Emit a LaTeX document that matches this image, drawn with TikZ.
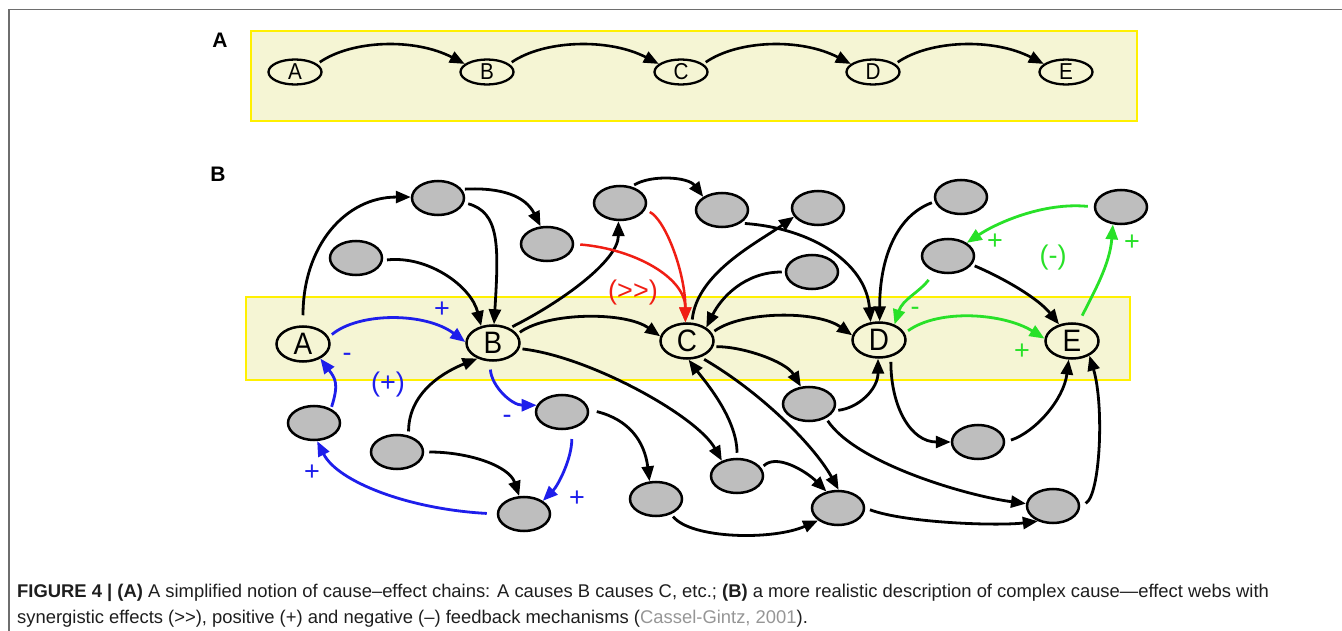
\documentclass[tikz,border=0pt]{standalone}
\usepackage{fontspec}
\setmainfont{Liberation Sans}
\newfontfamily\condfont[FakeStretch=0.9]{Liberation Sans}
\usetikzlibrary{arrows.meta,shapes.geometric}
\definecolor{bandfill}{RGB}{245,245,212}
\definecolor{bandline}{RGB}{255,240,0}
\definecolor{greyfill}{RGB}{190,190,190}
\definecolor{fbblue}{RGB}{30,30,235}
\definecolor{fbgreen}{RGB}{40,225,40}
\definecolor{fbred}{RGB}{240,30,20}
\definecolor{framegrey}{RGB}{110,110,110}
\definecolor{captext}{RGB}{30,30,30}
\definecolor{citegrey}{RGB}{150,150,150}
\begin{document}
\begin{tikzpicture}[x=1pt,y=-1pt,
  band/.style={fill=bandfill,draw=bandline,line width=2.5pt},
  mainA/.style={ellipse,draw,line width=2.3pt,fill=bandfill,minimum width=53pt,minimum height=25pt,inner sep=0pt,font=\condfont\fontsize{23}{23}\selectfont},
  mainB/.style={ellipse,draw,line width=2.5pt,fill=bandfill,minimum width=53pt,minimum height=35pt,inner sep=0pt,font=\condfont\fontsize{31}{31}\selectfont},
  gnode/.style={ellipse,draw,line width=2.5pt,fill=greyfill,minimum width=52pt,minimum height=34pt,inner sep=0pt},
  connA/.style={line width=2.6pt,-{Triangle[length=15pt,width=12pt]}},
  conn/.style={line width=2.8pt,-{Triangle[length=15pt,width=12pt]}},
  bconn/.style={conn,draw=fbblue,-{Triangle[length=15pt,width=12pt,fill=fbblue]}},
  gconn/.style={conn,draw=fbgreen,-{Triangle[length=15pt,width=12pt,fill=fbgreen]}},
  rconn/.style={line width=2.5pt,draw=fbred,-{Triangle[length=15pt,width=12pt,fill=fbred]}},
  lbl/.style={inner sep=0pt,font=\fontsize{27}{27}\selectfont},
  panel/.style={inner sep=0pt,font=\bfseries\fontsize{21}{21}\selectfont},
  captxt/.style={inner sep=0pt,anchor=base west,text=captext,font=\fontsize{18.4}{22}\selectfont}
]
\useasboundingbox (0,0) rectangle (1342,631);
\fill[white] (0,0) rectangle (1342,631);
\draw[framegrey,line width=1.5pt] (9,631) -- (9,9.5) -- (1342,9.5);

% ---------- Panel A ----------
\node[panel] (labA) at (220,40) {A};
\path[band] (251,31) rectangle (1137,121);
\node[mainA] (a1) at (295,72) {A};
\node[mainA] (a2) at (487,72) {B};
\node[mainA] (a3) at (681,72) {C};
\node[mainA] (a4) at (873,72) {D};
\node[mainA] (a5) at (1066,72) {E};
\draw[connA,shorten <=3pt] (a1.20) .. controls +(35,-24) and +(-50,-26) .. (a2.160);
\draw[connA,shorten <=3pt] (a2.20) .. controls +(35,-24) and +(-50,-26) .. (a3.160);
\draw[connA,shorten <=3pt] (a3.20) .. controls +(35,-24) and +(-50,-26) .. (a4.160);
\draw[connA,shorten <=3pt] (a4.20) .. controls +(35,-24) and +(-50,-26) .. (a5.160);

% ---------- Panel B ----------
\node[panel] (labB) at (218,174) {B};
\path[band] (246,297) rectangle (1130,380);
\node[mainB] (An) at (303,344) {A};
\node[mainB] (Bn) at (493,343) {B};
\node[mainB] (Cn) at (687,341) {C};
\node[mainB] (Dn) at (879,340) {D};
\node[mainB] (En) at (1072,341) {E};

\node[gnode] (g1) at (438,198) {};
\node[gnode] (g2) at (356,258) {};
\node[gnode] (g3) at (547,244) {};
\node[gnode] (g4) at (620,203) {};
\node[gnode] (g5) at (722,210) {};
\node[gnode] (g6) at (818,208) {};
\node[gnode] (g7) at (812,272) {};
\node[gnode] (g8) at (961,197) {};
\node[gnode] (g9) at (948,256) {};
\node[gnode] (g10) at (1121,207) {};
\node[gnode] (g11) at (314,423) {};
\node[gnode] (g12) at (397,452) {};
\node[gnode] (g13) at (562,412) {};
\node[gnode] (g14) at (524,514) {};
\node[gnode] (g15) at (656,499) {};
\node[gnode] (g16) at (737,476) {};
\node[gnode] (g17) at (809,404) {};
\node[gnode] (g18) at (838,508) {};
\node[gnode] (g19) at (978,442) {};
\node[gnode] (g20) at (1053,506) {};

% black connectors
\draw[conn,shorten <=10pt] (An.90) .. controls +(0,-80) and +(-65,0) .. (g1.178);
\draw[conn,shorten <=3pt] (g1.20) .. controls +(40,-2) and +(-15,-30) .. (g3.110);
\draw[conn,shorten <=4pt] (g1.-10) .. controls +(35,10) and +(5,-80) .. (Bn.87);
\draw[conn,shorten <=4pt] (g2.-5) .. controls +(45,-5) and +(-10,-40) .. (Bn.125);
\draw[conn,shorten <=3pt] (Bn.42) .. controls +(50,-25) and +(0,40) .. (g4.-95);
\draw[conn,shorten <=3pt] (Bn.20) .. controls +(30,-22) and +(-35,-25) .. (Cn.170);
\draw[conn,shorten <=3pt] (Bn.-12) .. controls +(70,8) and +(-25,-45) .. (g16.135);
\draw[conn,shorten <=3pt] (Cn.18) .. controls +(30,-22) and +(-35,-25) .. (Dn.170);
\draw[conn,shorten <=3pt] (Cn.-12) .. controls +(30,0) and +(-15,-25) .. (g17.115);
\draw[conn,shorten <=3pt] (Cn.75) .. controls +(5,-50) and +(-35,25) .. (g6.200);
\draw[conn,shorten <=3pt] (g7.180) .. controls +(-40,0) and +(15,-30) .. (Cn.35);
\draw[conn,shorten <=3pt] (g4.55) .. controls +(20,-12) and +(-15,-20) .. (g5.145);
\draw[conn,shorten <=4pt] (g5.-35) .. controls +(70,5) and +(-5,-60) .. (Dn.115);
\draw[conn,shorten <=3pt] (g8.190) .. controls +(-40,15) and +(0,-60) .. (Dn.88);
\draw[conn,shorten <=3pt] (g9.-20) .. controls +(35,15) and +(-20,-25) .. (En.128);
\draw[conn,shorten <=4pt] (g17.-15) .. controls +(25,-3) and +(0,30) .. (Dn.-93);
\draw[conn,shorten <=5pt] (Dn.-55) .. controls +(0,50) and +(-40,0) .. (g19.180);
\draw[conn,shorten <=6pt] (g19.0) .. controls +(30,-10) and +(-5,40) .. (En.-100);
\draw[conn,shorten <=6pt] (g20.0) .. controls +(20,-10) and +(15,50) .. (En.-40);
\draw[conn,shorten <=3pt] (g17.-40) .. controls +(30,45) and +(-60,-8) .. (g20.175);
\draw[conn,shorten <=5pt] (g16.90) .. controls +(0,-40) and +(15,20) .. (Cn.-85);
\draw[conn,shorten <=4pt] (Cn.-50) .. controls +(60,35) and +(-25,-45) .. (g18.88);
\draw[conn,shorten <=3pt] (g16.18) .. controls +(15,-15) and +(-20,-20) .. (g18.125);
\draw[conn,shorten <=3pt] (g15.-45) .. controls +(20,25) and +(-45,20) .. (g18.212);
\draw[conn,shorten <=5pt] (g18.0) .. controls +(40,15) and +(-40,5) .. (g20.225);
\draw[conn,shorten <=8pt] (g13.5) .. controls +(40,10) and +(-5,-40) .. (g15.110);
\draw[conn,shorten <=4pt] (g12.55) .. controls +(0,-45) and +(-30,12) .. (Bn.225);
\draw[conn,shorten <=5pt] (g12.0) .. controls +(45,0) and +(-10,-30) .. (g14.105);

% blue connectors
\draw[bconn,shorten <=4pt] (An.15) .. controls +(30,-25) and +(-40,-30) .. (Bn.178);
\draw[bconn,shorten <=2pt] (g11.40) .. controls +(8,-25) and +(15,20) .. (An.-40);
\draw[bconn,shorten <=8pt] (Bn.-100) .. controls +(2,25) and +(-25,0) .. (g13.165);
\draw[bconn,shorten <=10pt] (g13.-60) .. controls +(0,30) and +(15,-15) .. (g14.35);
\draw[bconn,shorten <=10pt] (g14.180) .. controls +(-90,-5) and +(20,40) .. (g11.-80);

% red connectors
\draw[rconn,shorten <=6pt] (g3.0) .. controls +(60,5) and +(0,-45) .. (Cn.95);
\draw[rconn,shorten <=5pt] (g4.-15) .. controls +(20,10) and +(0,-50) .. (Cn.95);

% green connectors
\draw[gconn,shorten <=4pt] (Dn.15) .. controls +(35,-25) and +(-40,-25) .. (En.175);
\draw[gconn,shorten <=8pt] (En.70) .. controls +(15,-30) and +(-3,40) .. (g10.-115);
\draw[gconn,shorten <=6pt] (g10.180) .. controls +(-50,-5) and +(30,-20) .. (g9.35);
\draw[gconn,shorten <=10pt] (g9.-130) .. controls +(-15,20) and +(8,-25) .. (Dn.45);

% labels
\node[lbl,text=fbblue] (l1) at (442,310) {+};
\node[lbl,text=fbblue] (l2) at (347,357) {-};
\node[lbl,text=fbblue] (l3) at (388,385) {(+)};
\node[lbl,text=fbblue] (l4) at (507,419) {-};
\node[lbl,text=fbblue] (l5) at (577,499) {+};
\node[lbl,text=fbblue] (l6) at (312,473) {+};
\node[lbl,text=fbred] (l7) at (633,293) {(>{}>)};
\node[lbl,text=fbgreen] (l8) at (1022,352) {+};
\node[lbl,text=fbgreen] (l9) at (1132,243) {+};
\node[lbl,text=fbgreen] (l10) at (995,242) {+};
\node[lbl,text=fbgreen] (l11) at (915,311) {-};
\node[lbl,text=fbgreen] (l12) at (1053,258) {(-)};

% caption
\node[captxt] (cap1) at (17,597) {\textbf{FIGURE 4 | (A)} A simplified notion of cause–effect chains: A causes B causes C, etc.; \textbf{(B)} a more realistic description of complex cause—effect webs with};
\node[captxt] (cap2) at (17,623) {synergistic effects (>{}>), positive (+) and negative (–) feedback mechanisms ({\color{citegrey}Cassel-Gintz, 2001}).};
\end{tikzpicture}
\end{document}
